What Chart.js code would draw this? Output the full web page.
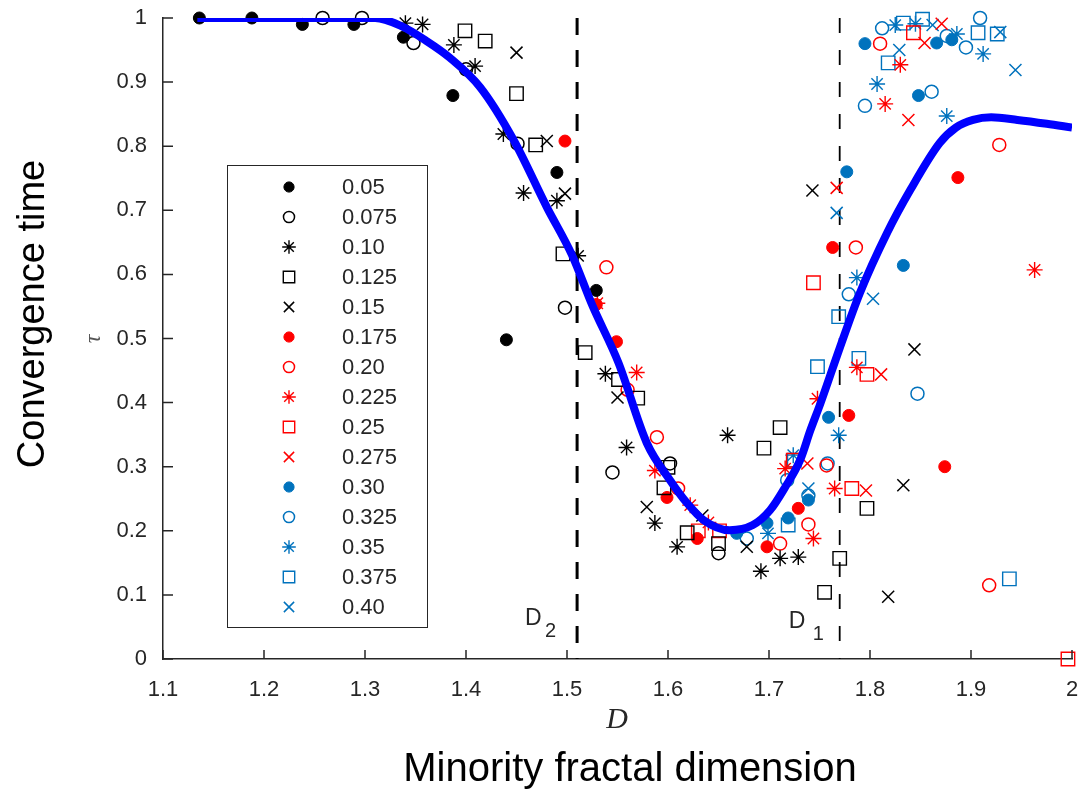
<!DOCTYPE html>
<html>
<head>
<meta charset="utf-8">
<title>Convergence time vs minority fractal dimension</title>
<script src="https://cdn.jsdelivr.net/npm/chart.js@4.4.1/dist/chart.umd.min.js"></script>
<style>
  html, body { margin: 0; padding: 0; background: #fff; }
  canvas { display: block; }
</style>
</head>
<body>
<canvas id="chart" width="1079" height="789"></canvas>
<script>
// axis ticks
const xTicks = [1.1, 1.2, 1.3, 1.4, 1.5, 1.6, 1.7, 1.8, 1.9, 2.0];
const xTickLabels = ["1.1", "1.2", "1.3", "1.4", "1.5", "1.6", "1.7", "1.8", "1.9", "2"];
const yTicks = [0, 0.1, 0.2, 0.3, 0.4, 0.5, 0.6, 0.7, 0.8, 0.9, 1.0];
const yTickLabels = ["0", "0.1", "0.2", "0.3", "0.4", "0.5", "0.6", "0.7", "0.8", "0.9", "1"];

// legend labels (one per series below)
const seriesLabels = ["0.05", "0.075", "0.10", "0.125", "0.15",
                      "0.175", "0.20", "0.225", "0.25", "0.275",
                      "0.30", "0.325", "0.35", "0.375", "0.40"];

// measured points [D, tau]
const s005 = [[1.136,1.0],[1.188,1.0],[1.238,0.99],[1.289,0.99],[1.338,0.97],[1.387,0.879],
              [1.44,0.498],[1.49,0.759],[1.529,0.575]];
const s0075 = [[1.258,1.0],[1.297,1.0],[1.348,0.961],[1.40,0.92],[1.451,0.804],[1.498,0.548],
               [1.545,0.291],[1.602,0.305],[1.65,0.165]];
const s010 = [[1.34,0.992],[1.357,0.99],[1.388,0.958],[1.409,0.925],[1.437,0.819],[1.457,0.727],
              [1.49,0.715],[1.511,0.629],[1.538,0.445],[1.559,0.33],[1.587,0.212],[1.609,0.175],
              [1.659,0.349],[1.692,0.137],[1.711,0.157],[1.729,0.159]];
const s0125 = [[1.399,0.98],[1.419,0.964],[1.45,0.882],[1.469,0.802],[1.496,0.632],[1.518,0.478],
               [1.551,0.436],[1.57,0.407],[1.60,0.299],[1.596,0.267],[1.619,0.197],[1.65,0.18],
               [1.695,0.329],[1.711,0.361],[1.77,0.157],[1.755,0.104],[1.797,0.235]];
const s015 = [[1.45,0.946],[1.48,0.808],[1.498,0.726],[1.55,0.408],[1.579,0.237],[1.634,0.224],
              [1.678,0.175],[1.743,0.731],[1.844,0.483],[1.833,0.271],[1.818,0.097]];
const s0175 = [[1.498,0.808],[1.529,0.553],[1.549,0.495],[1.599,0.252],[1.629,0.188],[1.698,0.175],
               [1.729,0.235],[1.779,0.38],[1.763,0.642],[1.887,0.751],[1.874,0.30]];
const s020 = [[1.539,0.611],[1.56,0.42],[1.589,0.346],[1.61,0.266],[1.711,0.18],[1.739,0.21],
              [1.757,0.302],[1.786,0.642],[1.81,0.96],[1.928,0.802],[1.918,0.115]];
const s0225 = [[1.53,0.555],[1.569,0.447],[1.587,0.294],[1.622,0.24],[1.64,0.213],[1.716,0.297],
               [1.744,0.188],[1.748,0.406],[1.765,0.266],[1.787,0.455],[1.963,0.607],[1.83,0.927],
               [1.815,0.866]];
const s025 = [[1.63,0.2],[1.651,0.2],[1.724,0.31],[1.782,0.266],[1.744,0.587],[1.797,0.444],
              [1.843,0.977],[1.996,0.0]];
const s0275 = [[1.738,0.305],[1.796,0.263],[1.811,0.444],[1.767,0.735],[1.838,0.841],[1.854,0.961],
               [1.871,0.991]];
const s030 = [[1.668,0.196],[1.698,0.212],[1.719,0.22],[1.739,0.248],[1.759,0.377],[1.833,0.614],
              [1.777,0.76],[1.795,0.96],[1.848,0.879],[1.866,0.961],[1.881,0.966]];
const s0325 = [[1.678,0.188],[1.718,0.279],[1.739,0.255],[1.758,0.305],[1.779,0.569],[1.847,0.414],
               [1.795,0.863],[1.861,0.885],[1.812,0.984],[1.876,0.972],[1.895,0.954],[1.909,1.0]];
const s035 = [[1.699,0.196],[1.724,0.318],[1.769,0.349],[1.787,0.595],[1.807,0.897],[1.876,0.847],
              [1.825,0.989],[1.845,0.991],[1.886,0.975],[1.912,0.944]];
const s0375 = [[1.719,0.209],[1.725,0.31],[1.748,0.456],[1.769,0.534],[1.789,0.469],[1.818,0.93],
               [1.833,0.992],[1.852,0.998],[1.907,0.977],[1.926,0.975],[1.938,0.125]];
const s040 = [[1.739,0.266],[1.767,0.696],[1.803,0.562],[1.829,0.95],[1.944,0.919],[1.862,0.989],
              [1.929,0.978]];

// fitted curve (blue)
const curveX = [1.134,1.236,1.310,1.335,1.361,1.384,1.414,1.447,1.480,1.505,1.525,1.551,1.579,
                1.602,1.619,1.635,1.661,1.684,1.701,1.716,1.731,1.741,1.751,1.770,1.790,1.817,
                1.840,1.869,1.885,1.902,1.920,1.946,1.975,2.0];
const curveY = [1.0,1.0,1.0,0.988,0.964,0.938,0.892,0.810,0.705,0.630,0.552,0.462,0.337,
                0.279,0.243,0.217,0.201,0.209,0.232,0.268,0.311,0.357,0.399,0.485,0.571,0.665,
                0.732,0.805,0.829,0.841,0.845,0.841,0.835,0.829];

// critical dimensions
const dCritical = [1.51, 1.77];
const dCriticalNames = ["2", "1"];

const allSeries = [s005, s0075, s010, s0125, s015, s0175, s020, s0225, s025, s0275,
                   s030, s0325, s035, s0375, s040];
const palette = ["#000000", "#ff0000", "#0072bd"];
const shapeCycle = ["dot", "circle", "star", "rect", "cross"];
const shapes = {
  dot:    { pointStyle: "circle",   radius: 6,   fill: true,  bw: 1 },
  circle: { pointStyle: "circle",   radius: 6.5, fill: false, bw: 1.5 },
  star:   { pointStyle: "star",     radius: 8,   fill: false, bw: 1.4 },
  rect:   { pointStyle: "rect",     radius: 9.5, fill: false, bw: 1.4 },
  cross:  { pointStyle: "crossRot", radius: 8.5, fill: false, bw: 1.5 }
};

function styleOf(i) {
  const color = palette[Math.floor(i / 5)];
  const s = shapes[shapeCycle[i % 5]];
  return { color, ...s };
}

const datasets = [];

datasets.push({
  label: "fit",
  data: curveX.map((x, i) => ({ x, y: curveY[i] })),
  showLine: true,
  borderColor: "#0000ff",
  borderWidth: 8,
  pointRadius: 0,
  cubicInterpolationMode: "monotone",
  order: 0
});

allSeries.forEach((pts, i) => {
  const st = styleOf(i);
  datasets.push({
    label: seriesLabels[i],
    data: pts.map(p => ({ x: p[0], y: p[1] })),
    showLine: false,
    pointStyle: st.pointStyle,
    pointRadius: st.radius,
    pointHoverRadius: st.radius,
    pointBorderWidth: st.bw,
    pointBorderColor: st.color,
    pointBackgroundColor: st.fill ? st.color : "rgba(0,0,0,0)",
    clip: false,
    order: 1
  });
});

dCritical.forEach((d, i) => {
  datasets.push({
    label: "D" + dCriticalNames[i],
    data: [{ x: d, y: 1 }, { x: d, y: 0 }],
    showLine: true,
    borderColor: "#000000",
    borderWidth: i === 0 ? 3 : 1.8,
    borderDash: i === 0 ? [17, 15] : [15, 17],
    pointRadius: 0,
    order: 2
  });
});

const decorations = {
  id: "decorations",
  afterDatasetsDraw(chart) {
    const ctx = chart.ctx;
    const xs = chart.scales.x, ys = chart.scales.y;
    const area = chart.chartArea;
    ctx.save();

    // inward tick marks
    ctx.strokeStyle = "#262626";
    ctx.lineWidth = 1.5;
    ctx.beginPath();
    xTicks.forEach(v => {
      const px = xs.getPixelForValue(v);
      ctx.moveTo(px, area.bottom);
      ctx.lineTo(px, area.bottom - 9);
    });
    yTicks.forEach(v => {
      const py = ys.getPixelForValue(v);
      ctx.moveTo(area.left, py);
      ctx.lineTo(area.left + 10, py);
    });
    ctx.stroke();

    // D2 / D1 labels
    ctx.fillStyle = "#262626";
    ctx.textAlign = "left";
    ctx.textBaseline = "alphabetic";
    const offs = [[-52, 625, -32, 637], [-51, 628, -27, 640]];
    dCritical.forEach((d, i) => {
      const px = xs.getPixelForValue(d);
      ctx.font = "23px 'Liberation Sans', Arial, sans-serif";
      ctx.fillText("D", px + offs[i][0], offs[i][1]);
      ctx.font = "20px 'Liberation Sans', Arial, sans-serif";
      ctx.fillText(dCriticalNames[i], px + offs[i][2], offs[i][3]);
    });

    // legend box
    const lx = 227, ly = 165, lw = 200, lh = 462;
    ctx.fillStyle = "#ffffff";
    ctx.fillRect(lx, ly, lw, lh);
    ctx.strokeStyle = "#262626";
    ctx.lineWidth = 1;
    ctx.strokeRect(lx + 0.5, ly + 0.5, lw, lh);
    seriesLabels.forEach((lab, i) => {
      const st = styleOf(i);
      const cy = 187 + i * 30;
      ctx.save();
      ctx.strokeStyle = st.color;
      ctx.fillStyle = st.fill ? st.color : "rgba(0,0,0,0)";
      ctx.lineWidth = st.bw;
      Chart.helpers.drawPoint(ctx, {
        pointStyle: st.pointStyle, rotation: 0,
        radius: st.radius * 0.85, borderWidth: st.bw
      }, 289, cy);
      ctx.restore();
      ctx.fillStyle = "#262626";
      ctx.font = "22px 'Liberation Sans', Arial, sans-serif";
      ctx.textBaseline = "middle";
      ctx.fillText(lab, 342, cy + 1);
    });

    // axis symbols and titles
    ctx.fillStyle = "#262626";
    ctx.textAlign = "center";
    ctx.textBaseline = "alphabetic";
    ctx.font = "italic 30px 'Liberation Serif', 'DejaVu Serif', serif";
    ctx.fillText("D", 617, 728);

    ctx.fillStyle = "#000000";
    ctx.font = "40px 'Liberation Sans', Arial, sans-serif";
    ctx.fillText("Minority fractal dimension", 630, 781);

    ctx.save();
    ctx.translate(44, 314);
    ctx.rotate(-Math.PI / 2);
    ctx.font = "38px 'Liberation Sans', Arial, sans-serif";
    ctx.fillText("Convergence time", 0, 0);
    ctx.restore();

    ctx.save();
    ctx.translate(100, 339);
    ctx.rotate(-Math.PI / 2);
    ctx.fillStyle = "#555555";
    ctx.font = "italic 24px 'Liberation Serif', 'DejaVu Serif', serif";
    ctx.fillText("τ", 0, 0);
    ctx.restore();

    ctx.restore();
  }
};

new Chart(document.getElementById("chart"), {
  type: "scatter",
  data: { datasets },
  options: {
    responsive: false,
    animation: false,
    events: [],
    layout: { padding: { top: 18, right: 7, bottom: 0, left: 0 }, autoPadding: false },
    plugins: { legend: { display: false }, tooltip: { enabled: false } },
    scales: {
      x: {
        type: "linear",
        min: 1.1,
        max: 2.0,
        afterFit: s => { s.height = 130; s.paddingLeft = 0; s.paddingRight = 0; },
        afterBuildTicks: s => { s.ticks = xTicks.map(v => ({ value: v })); },
        grid: { display: false, drawTicks: false },
        border: { display: true, color: "#262626", width: 1.5 },
        ticks: {
          padding: 18,
          color: "#262626",
          font: { family: "'Liberation Sans', Arial, sans-serif", size: 22 },
          callback: (v, i) => xTickLabels[i]
        }
      },
      y: {
        type: "linear",
        min: 0,
        max: 1,
        afterFit: s => { s.width = 163; s.paddingTop = 0; s.paddingBottom = 0; },
        afterBuildTicks: s => { s.ticks = yTicks.map(v => ({ value: v })); },
        grid: { display: false, drawTicks: false },
        border: { display: true, color: "#262626", width: 1.5 },
        ticks: {
          padding: 16,
          color: "#262626",
          font: { family: "'Liberation Sans', Arial, sans-serif", size: 22 },
          callback: (v, i) => yTickLabels[i]
        }
      }
    }
  },
  plugins: [decorations]
});
</script>
</body>
</html>
